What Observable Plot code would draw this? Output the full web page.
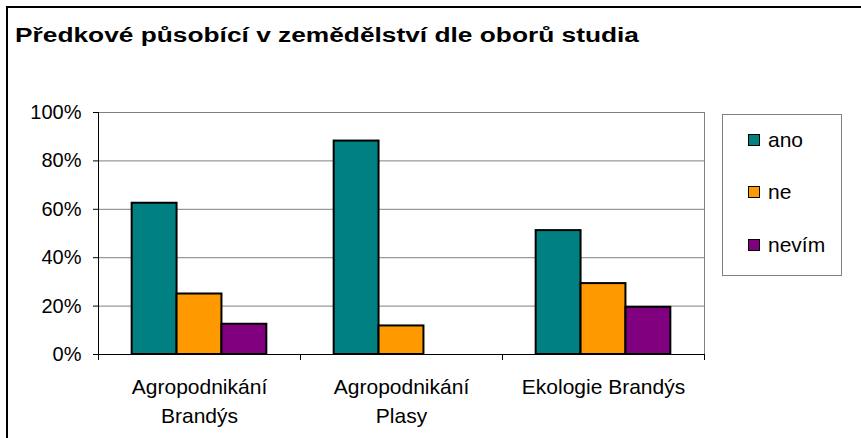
<!DOCTYPE html>
<html>
<head>
<meta charset="utf-8">
<script src="https://cdn.jsdelivr.net/npm/d3@7"></script>
<script src="https://cdn.jsdelivr.net/npm/@observablehq/plot@0.6"></script>
<style>
  html, body { margin: 0; padding: 0; background: #fff; }
  #wrap { position: relative; width: 861px; height: 438px; overflow: hidden; background: #fff;
          font-family: "Liberation Sans", Arial, sans-serif; }
  #wrap svg { position: absolute; left: 0; top: 0; }
  #border { position: absolute; left: 6px; top: 6px; width: 900px; height: 500px;
            border-left: 2px solid #000; border-top: 2px solid #000; box-sizing: border-box; }
  #title { position: absolute; left: 15px; top: 25px; font-size: 20px; line-height: 20px;
           font-weight: bold; white-space: nowrap; color: #000; transform-origin: 0 0; }
  #legend { position: absolute; left: 722px; top: 114px; width: 120px; height: 162px;
            box-sizing: border-box; border: 1px solid #808080; padding-top: 12.7px; }
  .item { display: flex; align-items: center; height: 24px; margin-bottom: 28.8px; font-size: 21px; line-height: 24px; }
  .sw { width: 12px; height: 12px; box-sizing: border-box; border: 1.5px solid #000; margin-left: 25px; margin-right: 8px; }
</style>
</head>
<body>
<div id="wrap"></div>
<script>
// ---- data ----
const titleText = "Předkové působící v zemědělství dle oborů studia";
const categories = ["Agropodnikání\nBrandýs", "Agropodnikání\nPlasy", "Ekologie Brandýs"];
const series = ["ano", "ne", "nevím"];
const ano = [62.5, 88.2, 51.2];
const ne = [25.0, 11.8, 29.3];
const nevim = [12.5, 0, 19.5];
const colors = ["#008080", "#FF9900", "#800080"];
const yTicks = [0, 20, 40, 60, 80, 100];

const seriesValues = [ano, ne, nevim];
const data = categories.flatMap((c, i) =>
  series.map((s, j) => ({category: c, series: s, value: seriesValues[j][i]}))
).filter(d => d.value > 0);

const W = 861, H = 438, mT = 112, mB = 84, mL = 97, mR = 157;
const innerH = H - mT - mB;

const chart = Plot.plot({
  width: W, height: H,
  marginTop: mT, marginBottom: mB, marginLeft: mL, marginRight: mR,
  style: {fontFamily: "'Liberation Sans', Arial, sans-serif", background: "transparent", color: "#000"},
  fx: {domain: categories, padding: 0, axis: null},
  x: {domain: series, paddingInner: 0, paddingOuter: 0.75, round: false, axis: null},
  y: {domain: [0, 100], axis: null},
  color: {domain: series, range: colors},
  marks: [
    Plot.gridY(yTicks.filter(t => t > 0), {stroke: "#808080", strokeOpacity: 1, strokeWidth: 1}),
    Plot.frame({anchor: "right", facetAnchor: "right", stroke: "#808080", strokeWidth: 1}),
    Plot.barY(data, {fx: "category", x: "series", y: "value", fill: "series", stroke: "#000", strokeWidth: 2}),
    Plot.ruleY([0], {stroke: "#000", strokeWidth: 1}),
    Plot.frame({anchor: "left", facetAnchor: "left", stroke: "#000", strokeWidth: 1, insetBottom: -5}),
    Plot.frame({anchor: "right", stroke: "#000", strokeWidth: 1, insetTop: innerH, insetBottom: -5}),
    Plot.axisY({ticks: yTicks, tickFormat: d => d + "%", tickSize: 5, tickPadding: 12, fontSize: 20,
                label: null, stroke: "#000", strokeOpacity: 1, fill: "#000"}),
    Plot.text(categories, {fx: d => d, text: d => d, frameAnchor: "bottom", lineAnchor: "top",
                dy: 19, lineHeight: 1.38, fontSize: 21, fill: "#000"})
  ]
});

const wrap = document.getElementById("wrap");
wrap.appendChild(chart);

const border = document.createElement("div");
border.id = "border";
wrap.appendChild(border);

const title = document.createElement("div");
title.id = "title";
title.textContent = titleText;
wrap.appendChild(title);
// stretch the title horizontally to the reference's span (x 15 → 639)
const natural = title.getBoundingClientRect().width;
title.style.transform = `scaleX(${624 / natural})`;

const legend = document.createElement("div");
legend.id = "legend";
series.forEach((s, i) => {
  const item = document.createElement("div");
  item.className = "item";
  const sw = document.createElement("span");
  sw.className = "sw";
  sw.style.background = colors[i];
  const lab = document.createElement("span");
  lab.textContent = s;
  item.appendChild(sw);
  item.appendChild(lab);
  legend.appendChild(item);
});
wrap.appendChild(legend);
</script>
</body>
</html>
